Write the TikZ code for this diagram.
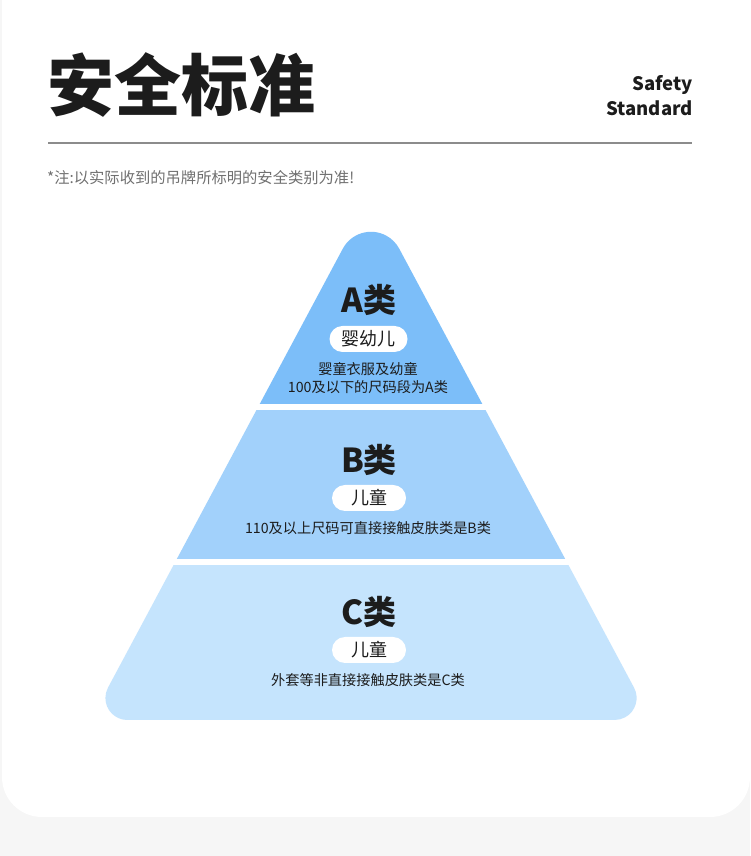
\documentclass[tikz,border=0pt]{standalone}
\usepackage{fontspec}
\setmainfont{Noto Sans CJK SC}
\definecolor{bgc}{RGB}{246,246,246}
\definecolor{tierA}{RGB}{124,190,249}
\definecolor{tierB}{RGB}{162,209,251}
\definecolor{tierC}{RGB}{197,228,253}
\definecolor{txt}{RGB}{28,28,28}
\definecolor{notec}{RGB}{112,112,112}
\definecolor{rulec}{RGB}{140,140,140}
\tikzset{
  pill/.style={fill=white, rounded corners=13pt, minimum height=26pt, inner sep=0pt, text=txt, font=\fontsize{18}{20}\selectfont},
  tierhead/.style={inner sep=0pt, text=txt, font=\bfseries\fontsize{33}{35}\selectfont},
  tiertext/.style={inner sep=0pt, text=txt, font=\fontsize{14.2}{16}\selectfont}
}
\begin{document}
\begin{tikzpicture}[x=1pt,y=1pt]
\useasboundingbox (0,0) rectangle (750,856);
\clip (0,0) rectangle (750,856);
\fill[bgc] (0,0) rectangle (750,856);
\fill[white, rounded corners=40pt] (2,39) rectangle (750,900);

% title block
\node[anchor=west, inner sep=0pt, text=txt, font=\bfseries\fontsize{67}{72}\selectfont] (title) at (47,771) {安全标准};
\node[anchor=east, inner sep=0pt, align=right, text=txt, font=\bfseries\fontsize{18.5}{25}\selectfont] (en) at (693,760) {Safety\\Standard};
\coordinate (rl) at (48,713);
\coordinate (rr) at (692,713);
\draw[rulec, line width=1.3pt] (rl) -- (rr);
\node[anchor=west, inner sep=0pt, text=notec, font=\fontsize{15.3}{17}\selectfont] (note) at (47,678) {*注:以实际收到的吊牌所标明的安全类别为准!};

% pyramid
\begin{scope}
\clip (342.8,607.3) arc[start angle=151.85, end angle=28.15, radius=32]
  -- (634.0,168.4) arc[start angle=28.15, end angle=-90, radius=22]
  -- (127.4,136) arc[start angle=270, end angle=151.85, radius=22] -- cycle;
\fill[tierA] (0,452) rectangle (750,700);
\fill[tierB] (0,297) rectangle (750,446);
\fill[tierC] (0,0) rectangle (750,291);
\end{scope}

% tier A
\node[tierhead] (ah) at (369,556) {A类};
\node[pill, minimum width=78pt] (ap) at (368.5,517) {婴幼儿};
\node[tiertext] (at1) at (368,487) {婴童衣服及幼童};
\node[tiertext] (at2) at (368,469) {100及以下的尺码段为A类};

% tier B
\node[tierhead] (bh) at (369,396) {B类};
\node[pill, minimum width=74pt] (bp) at (369,358) {儿童};
\node[tiertext] (bt) at (368,328) {110及以上尺码可直接接触皮肤类是B类};

% tier C
\node[tierhead] (ch) at (369,244) {C类};
\node[pill, minimum width=74pt] (cp) at (369,206) {儿童};
\node[tiertext] (ct) at (368,176) {外套等非直接接触皮肤类是C类};
\end{tikzpicture}
\end{document}
